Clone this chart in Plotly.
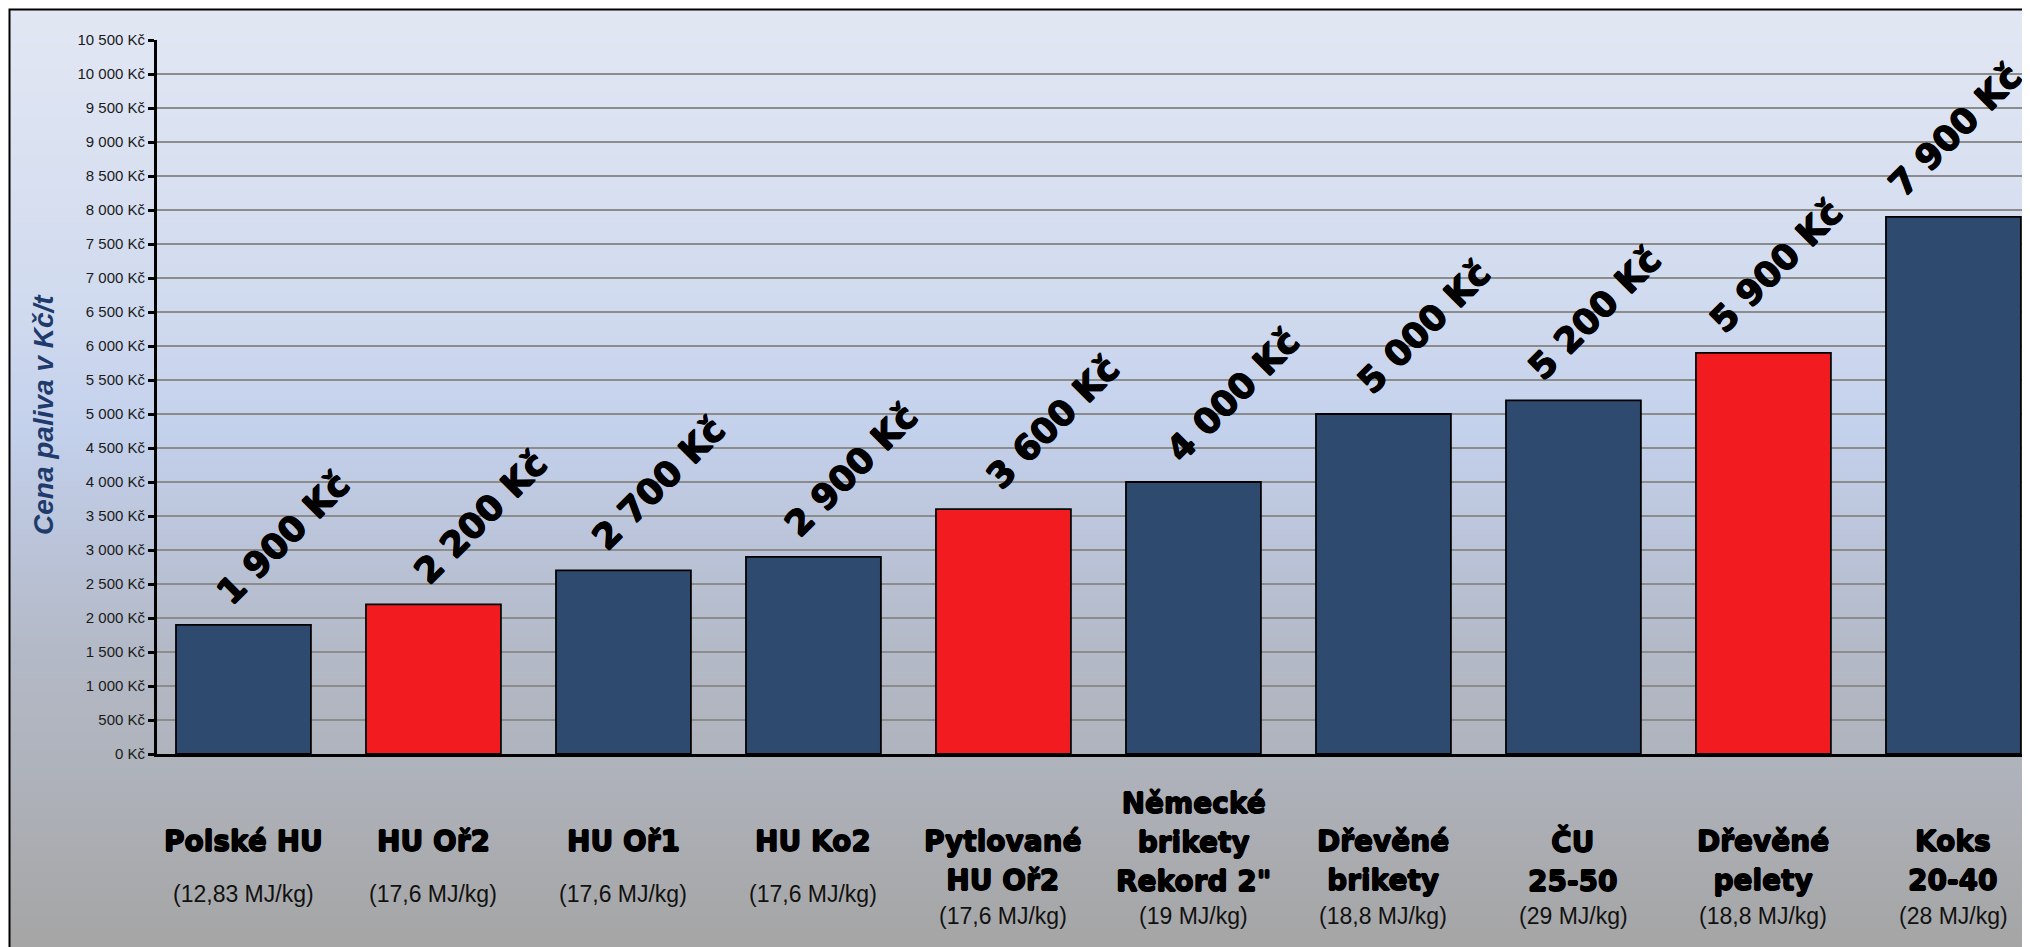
import plotly.graph_objects as go

# ---------------- data ----------------
categories = ["Polské HU", "HU Oř2", "HU Oř1", "HU Ko2", "Pytlované<br>HU Oř2",
              "Německé<br>brikety<br>Rekord 2\"", "Dřevěné<br>brikety", "ČU<br>25-50",
              "Dřevěné<br>pelety", "Koks<br>20-40"]
energy_labels = ["(12,83 MJ/kg)", "(17,6 MJ/kg)", "(17,6 MJ/kg)", "(17,6 MJ/kg)", "(17,6 MJ/kg)",
                 "(19 MJ/kg)", "(18,8 MJ/kg)", "(29 MJ/kg)", "(18,8 MJ/kg)", "(28 MJ/kg)"]
prices = [1900, 2200, 2700, 2900, 3600, 4000, 5000, 5200, 5900, 7900]
highlight = [False, True, False, False, True, False, False, False, True, False]
y_title = "Cena paliva v Kč/t"

# ---------------- style ----------------
OFF = 8                      # default page (body) margin of the html page
W, H = 2030 - OFF, 947 - OFF
ML, MT = 157 - OFF, 40 - OFF
MR, MB = 0, 947 - 754
PW, PH = W - ML - MR, H - MT - MB
NAVY, RED = "#2e4a6f", "#f21c20"
label_dx = [40, 48, 36, 38, 50, 40, 41, 22, 13, 2]   # px offsets of the rotated value labels
label_dy = 10
HEAVY = "DejaVu Sans"
EMBOLDEN = "0.7px 0 0 black, -0.7px 0 0 black, 0 0.7px 0 black, 0 -0.7px 0 black"


def px_x(px):            # page pixel -> paper x
    return (px - OFF - ML) / PW


def px_y(py):            # page pixel -> paper y
    return (H - MB - (py - OFF)) / PH


def fmt(v):
    return f"{v:,}".replace(",", " ") + " Kč"


# gradient background (frame area)
stops = [(9, (0xe2, 0xe7, 0xf3)), (300, (0xd1, 0xdb, 0xef)), (430, (0xc4, 0xd1, 0xec)),
         (550, (0xba, 0xc3, 0xd8)), (650, (0xb3, 0xb9, 0xc6)), (760, (0xaf, 0xb3, 0xbc)),
         (947, (0xa5, 0xa5, 0xa5))]


def grad(py):
    for (y0, c0), (y1, c1) in zip(stops[:-1], stops[1:]):
        if y0 <= py <= y1:
            t = (py - y0) / (y1 - y0)
            return "rgb(%d,%d,%d)" % tuple(round(a + (b - a) * t) for a, b in zip(c0, c1))
    return "rgb(%d,%d,%d)" % stops[-1][1]


shapes = []
step = 3
py = 9
while py < 947:
    shapes.append(dict(type="rect", xref="paper", yref="paper", layer="below",
                       x0=px_x(9), x1=px_x(2040), y0=px_y(py + step + 0.6), y1=px_y(py),
                       fillcolor=grad(py + step / 2), line=dict(width=0)))
    py += step
# frame
shapes.append(dict(type="rect", xref="paper", yref="paper", layer="above",
                   x0=px_x(9.5), x1=px_x(2045), y0=px_y(960), y1=px_y(9.5),
                   fillcolor="rgba(0,0,0,0)", line=dict(color="black", width=2)))

x = list(range(len(categories)))
colors = [RED if h else NAVY for h in highlight]

fig = go.Figure(go.Bar(
    x=x, y=prices, width=0.71,
    marker=dict(color=colors, line=dict(color="black", width=1.8)),
    hoverinfo="skip",
))

annotations = []
for i, v in enumerate(prices):
    annotations.append(dict(x=i, y=v, xref="x", yref="y", text="<b>" + fmt(v) + "</b>",
                            textangle=-45, showarrow=False, xanchor="center", yanchor="bottom",
                            xshift=label_dx[i], yshift=label_dy,
                            font=dict(family=HEAVY, size=35, color="black", shadow=EMBOLDEN)))
for i, (name, en) in enumerate(zip(categories, energy_labels)):
    n = name.count("<br>") + 1
    cy = 841 if n == 1 else 881 - (n - 1) * 39 / 2
    ey = 894 if n == 1 else 916
    annotations.append(dict(x=i, y=px_y(cy), xref="x", yref="paper",
                            text="<b><span style='font-size:28px'>" +
                                 name.replace("<br>", "</span><br><span style='font-size:28px'>") +
                                 "</span></b>",
                            showarrow=False, xanchor="center", yanchor="middle",
                            font=dict(family=HEAVY, size=30, color="black", shadow=EMBOLDEN)))
    annotations.append(dict(x=i, y=px_y(ey), xref="x", yref="paper", text=en,
                            showarrow=False, xanchor="center", yanchor="middle",
                            font=dict(family="Liberation Sans", size=23, color="#111111")))
annotations.append(dict(x=px_x(43), y=px_y(415), xref="paper", yref="paper",
                        text="<b><i>" + y_title + "</i></b>", textangle=-90, showarrow=False,
                        xanchor="center", yanchor="middle",
                        font=dict(family="Liberation Sans", size=28, color="#1f3b6b")))

fig.update_layout(
    width=W, height=H,
    margin=dict(l=ML, r=MR, t=MT, b=MB, pad=0),
    paper_bgcolor="white", plot_bgcolor="rgba(0,0,0,0)",
    separators=", ",
    showlegend=False,
    shapes=shapes,
    annotations=annotations,
    bargap=0.29,
)
fig.update_xaxes(range=[-0.455, 9.403], showticklabels=False, ticks="", showgrid=False,
                 zeroline=False, showline=True, linecolor="black", linewidth=3)
fig.update_yaxes(range=[0, 10500], dtick=500, tick0=0, tickformat=",d", ticksuffix=" Kč",
                 showgrid=True, gridcolor="#8c8c8c", gridwidth=1.6, zeroline=False,
                 showline=True, linecolor="black", linewidth=3,
                 ticks="outside", ticklen=6, tickwidth=3, tickcolor="black",
                 tickfont=dict(family="Liberation Sans", size=15, color="#1a1a1a"))

fig.write_html("out.html")
